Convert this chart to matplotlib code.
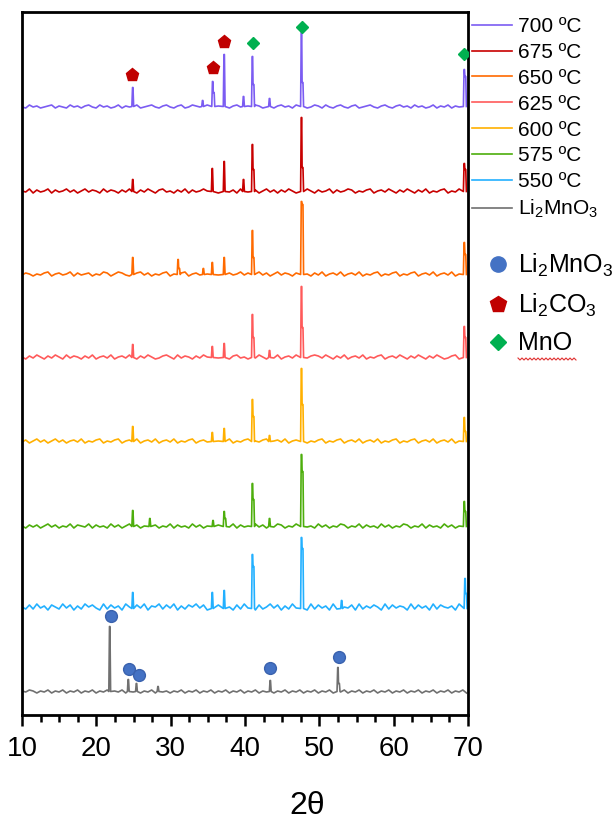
import numpy as np
import matplotlib
matplotlib.use("Agg")
import matplotlib.pyplot as plt
from matplotlib.lines import Line2D
from matplotlib.ticker import MultipleLocator

plt.rcParams["font.family"] = ["Liberation Sans Narrow", "Liberation Sans", "DejaVu Sans"]
plt.rcParams["mathtext.fontset"] = "custom"
plt.rcParams["mathtext.rm"] = "Liberation Sans"
plt.rcParams["mathtext.it"] = "Liberation Sans:italic"

# --- data (2theta in degrees, intensity in arbitrary units) ---
labels = ["700 ºC", "675 ºC", "650 ºC", "625 ºC", "600 ºC", "575 ºC", "550 ºC", r"Li$_2$MnO$_3$"]
colors = ["#7B5CF2", "#C80000", "#FF6A00", "#FF5A5A", "#FFB000", "#4DAE0C", "#22B0FF", "#707070"]
offsets = [607, 522, 439, 356, 272, 187, 105, 22]

# peaks: (2theta, height, shoulder height)
peaks_700 = [(24.9, 19, 0), (34.3, 6, 0), (35.65, 25, 14), (37.2, 52, 0), (39.8, 10, 0),
             (41.0, 50, 22), (43.3, 8, 0), (47.6, 74, 24), (69.5, 37, 30)]
peaks_675 = [(24.9, 12, 0), (35.6, 23, 0), (37.2, 30, 0), (39.8, 12, 0), (41.0, 47, 22),
             (47.6, 74, 24), (69.5, 28, 22)]
peaks_650 = [(24.9, 17, 0), (31.0, 15, 6), (34.4, 6, 0), (35.6, 12, 0), (37.2, 17, 0),
             (41.0, 44, 17), (47.6, 73, 70), (69.5, 32, 20)]
peaks_625 = [(24.9, 13, 0), (35.6, 11, 0), (37.2, 14, 0), (41.0, 43, 20), (43.3, 7, 0),
             (47.6, 71, 30), (69.5, 31, 20)]
peaks_600 = [(24.9, 15, 0), (35.6, 9, 0), (37.2, 13, 0), (41.0, 42, 25), (43.3, 6, 0),
             (47.6, 73, 37), (69.5, 24, 10)]
peaks_575 = [(24.9, 16, 0), (27.2, 8, 0), (35.7, 6, 0), (37.2, 15, 8), (41.0, 43, 27),
             (43.3, 8, 0), (47.6, 72, 55), (69.5, 25, 15)]
peaks_550 = [(24.9, 16, 0), (35.6, 16, 0), (37.2, 18, 0), (41.0, 54, 42), (47.6, 71, 60),
             (53.0, 8, 0), (69.6, 30, 15)]
peaks_ref = [(21.8, 65, 0), (24.3, 12, 0), (25.4, 8, 0), (28.3, 5, 0), (43.4, 11, 0),
             (52.5, 24, 8)]

# background noise, one digit per 0.5 degree step
noise_700 = "1031201230 2103120231 0312013021 2301231023 1023013210 3102310231 0213201302 3120312013 2031023102 3012310231 0231203120 1302130213 1"
noise_675 = "2140312403 1241302413 2041320314 2031420341 2031403124 2130421304 2143024130 3142031420 3124031243 0213402314 2031420314 0213402143 2"
noise_650 = "1320213402 3124031230 2143024310 2341302134 0213402314 2031403124 1302413024 1320314203 1402314023 1402134021 3402134023 1402314023 1"
noise_625 = "2031420314 2041320314 0231402314 2031420134 2041320314 2031420341 2031420314 0231402134 3142031402 3140213402 3142031420 3142013402 2"
noise_600 = "1302413024 1302314021 3402134023 1402314023 1402134023 1402314021 3402134023 1402314021 3402134023 1402314021 3402134023 1402314021 3"
noise_575 = "2031302413 0214032140 3120413024 1302143021 4031204130 2143021403 1204130214 3021403120 4130214302 1403120413 0214302140 3120413021 2"
noise_550 = "3151624053 1625041635 2061524063 1526043615 2604153625 0415263051 6240513625 0416253061 5240615325 0614253061 5243061524 0615324061 5"
noise_ref = "2132021302 1302130213 0213021302 1302130212 0213021302 1302130213 0213021302 1302130213 0213021302 1302130213 0213021302 1302130213 0"

peaks_all = [peaks_700, peaks_675, peaks_650, peaks_625, peaks_600, peaks_575, peaks_550, peaks_ref]
noise_all = [noise_700, noise_675, noise_650, noise_625, noise_600, noise_575, noise_550, noise_ref]

# phase markers placed above the peaks
li2mno3_x = [21.95, 24.4, 25.7, 43.4, 52.6]
li2mno3_y = [99, 46, 40, 47, 58]
li2co3_x = [24.8, 35.75, 37.15]
li2co3_y = [640, 647, 673]
mno_x = [41.05, 47.7, 69.4]
mno_y = [672, 688, 661]


def build_trace(peaks, noise, offset):
    digits = np.array([int(c) for c in noise.replace(" ", "")], dtype=float)
    x = np.linspace(10, 69.8, len(digits))
    y = offset + digits
    keep = np.ones(len(x), dtype=bool)
    for p, h, s in peaks:
        keep &= np.abs(x - p) > 0.32
    xs, ys = list(x[keep]), list(y[keep])
    b = offset + 1.5
    for p, h, s in peaks:
        xs += [p - 0.12, p - 0.03, p + 0.03]
        ys += [b, b + h, b + h]
        if s > 0:
            xs += [p + 0.08, p + 0.2, p + 0.28]
            ys += [b + s, b + s, b]
        else:
            xs += [p + 0.12]
            ys += [b]
    order = np.argsort(xs, kind="stable")
    return np.array(xs)[order], np.array(ys)[order]


fig = plt.figure(figsize=(6.13, 8.22), dpi=100)
ax = fig.add_axes([22 / 613, 1 - 715 / 822, (468 - 22) / 613, (715 - 12) / 822])

lines = []
for lab, col, off, pk, nz in zip(labels, colors, offsets, peaks_all, noise_all):
    tx, ty = build_trace(pk, nz, off)
    ln, = ax.plot(tx, ty, color=col, lw=1.2, label=lab)
    lines.append(ln)

ax.plot(li2mno3_x, li2mno3_y, "o", color="#4472C4", ms=8.5, mec="#3A62AE", zorder=5)
ax.plot(li2co3_x, li2co3_y, "p", color="#C00000", ms=9.5, zorder=5)
ax.plot(mno_x, mno_y, "D", color="#00B050", ms=6.5, zorder=5)

ax.set_xlim(10, 70)
ax.set_ylim(0, 703)
ax.set_yticks([])
ax.xaxis.set_major_locator(MultipleLocator(10))
ax.xaxis.set_minor_locator(MultipleLocator(2.5))
ax.tick_params(axis="x", which="major", direction="out", length=8, width=1.8,
               labelsize=20, pad=7)
ax.tick_params(axis="x", which="minor", direction="out", length=5, width=1.8)
for sp in ax.spines.values():
    sp.set_linewidth(2)
    sp.set_color("black")

ax.set_xlabel("2θ", fontsize=23)
ax.xaxis.set_label_coords(0.64, -0.108)

leg1 = ax.legend(handles=lines, loc="upper left", bbox_to_anchor=(472 / 613, 1 - 17 / 822),
                 bbox_transform=fig.transFigure, frameon=False, fontsize=15,
                 handlelength=1.9, handletextpad=0.3, labelspacing=0.33,
                 borderaxespad=0, borderpad=0)
ax.add_artist(leg1)

phase_handles = [
    Line2D([], [], marker="o", ls="none", color="#4472C4", ms=11),
    Line2D([], [], marker="p", ls="none", color="#C00000", ms=12),
    Line2D([], [], marker="D", ls="none", color="#00B050", ms=8),
]
phase_labels = [r"Li$_2$MnO$_3$", r"Li$_2$CO$_3$", "MnO"]
leg2 = ax.legend(handles=phase_handles, labels=phase_labels, loc="upper left",
                 bbox_to_anchor=(485 / 613, 1 - 252 / 822), bbox_transform=fig.transFigure,
                 frameon=False, prop={"family": "Liberation Sans", "size": 18},
                 handlelength=1.0, handletextpad=0.3, labelspacing=0.5,
                 borderaxespad=0, borderpad=0)

# red spell-check squiggle under "MnO"
sx = np.arange(518, 578, 2.0)
sy = 359 + np.where(np.arange(len(sx)) % 2 == 0, -1.0, 1.0)
fig.add_artist(Line2D(sx / 613, 1 - sy / 822, transform=fig.transFigure,
                      color="#E03030", lw=0.8))

fig.savefig("out.png", dpi=100)
